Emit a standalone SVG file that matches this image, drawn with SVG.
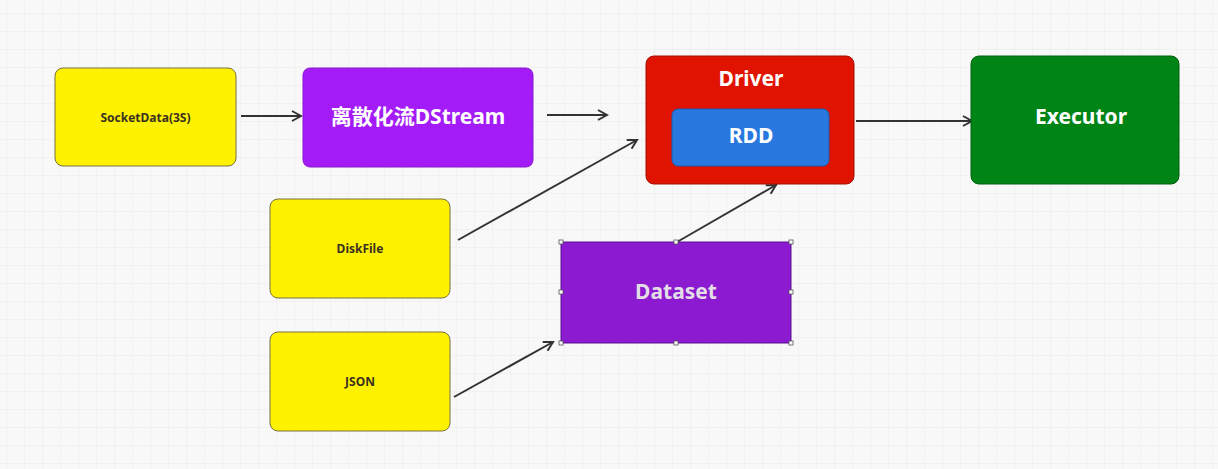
<svg xmlns="http://www.w3.org/2000/svg" width="1218" height="469" viewBox="0 0 1218 469">
<defs>
<pattern id="grid" width="18" height="18" patternUnits="userSpaceOnUse" x="7" y="14">
<path d="M18 0V18H0" fill="none" stroke="#ebebeb" stroke-width="1"/>
</pattern>
<marker id="arr" viewBox="0 0 12 12" refX="10" refY="6" markerWidth="12" markerHeight="12" markerUnits="userSpaceOnUse" orient="auto">
<path d="M1 1L10 6L1 11" fill="none" stroke="#333" stroke-width="2"/>
</marker>
<style>
.conn{stroke:#333;stroke-width:2;fill:none;marker-end:url(#arr)}
.yel{fill:#fff200;stroke:#7a7040;stroke-width:1}
.small{font-family:"Noto Sans","Noto Sans CJK SC",sans-serif;font-weight:bold;font-size:12px;fill:#3a3020;text-anchor:middle;dominant-baseline:central}
.big{font-family:"Noto Sans","Noto Sans CJK SC",sans-serif;font-weight:bold;font-size:21px;fill:#fff;text-anchor:middle;dominant-baseline:central}
.handle{fill:#fff;stroke:#555;stroke-width:0.8}
</style>
</defs>
<rect width="1218" height="469" fill="#f8f8f8"/>
<rect width="1218" height="469" fill="url(#grid)"/>
<g id="connectors">
<line class="conn" x1="241" y1="116" x2="301" y2="116"/>
<line class="conn" x1="547" y1="115" x2="607" y2="115"/>
<line class="conn" x1="856" y1="121" x2="972" y2="121"/>
<line class="conn" x1="458" y1="240" x2="637" y2="140"/>
<line class="conn" x1="677" y1="242" x2="776" y2="185"/>
<line class="conn" x1="454" y1="397" x2="553" y2="342"/>
</g>
<g id="socketdata">
<rect class="yel" x="55" y="68" width="181" height="98" rx="8"/>
<text class="small" x="145.5" y="117">SocketData(3S)</text>
</g>
<g id="dstream">
<rect x="303" y="68" width="230" height="99" rx="7" fill="#a31cf8" stroke="#8a18d0" stroke-width="1"/>
<text class="big" x="418" y="116">离散化流DStream</text>
</g>
<g id="driver">
<rect x="646" y="56" width="208" height="128" rx="8" fill="#e01300" stroke="#a01000" stroke-width="1"/>
<text class="big" x="751" y="78">Driver</text>
</g>
<g id="rdd">
<rect x="672" y="109" width="157" height="57" rx="6" fill="#2878e0" stroke="#1a5bb0" stroke-width="1"/>
<text class="big" x="751" y="135">RDD</text>
</g>
<g id="executor">
<rect x="971" y="56" width="208" height="128" rx="8" fill="#008416" stroke="#006010" stroke-width="1"/>
<text class="big" x="1081" y="116">Executor</text>
</g>
<g id="diskfile">
<rect class="yel" x="270" y="199" width="180" height="99" rx="8"/>
<text class="small" x="360" y="248.5">DiskFile</text>
</g>
<g id="json">
<rect class="yel" x="270" y="332" width="180" height="99" rx="8"/>
<text class="small" x="360" y="381">JSON</text>
</g>
<g id="dataset">
<rect x="561" y="242" width="230" height="101" fill="#8c1ad0" stroke="#5a1090" stroke-width="1"/>
<text class="big" x="676" y="291" style="fill:#e2dde6">Dataset</text>
<rect class="handle" x="559" y="240" width="4" height="4"/>
<rect class="handle" x="674" y="240" width="4" height="4"/>
<rect class="handle" x="789" y="240" width="4" height="4"/>
<rect class="handle" x="559" y="290" width="4" height="4"/>
<rect class="handle" x="789" y="290" width="4" height="4"/>
<rect class="handle" x="559" y="341" width="4" height="4"/>
<rect class="handle" x="674" y="341" width="4" height="4"/>
<rect class="handle" x="789" y="341" width="4" height="4"/>
</g>
</svg>
